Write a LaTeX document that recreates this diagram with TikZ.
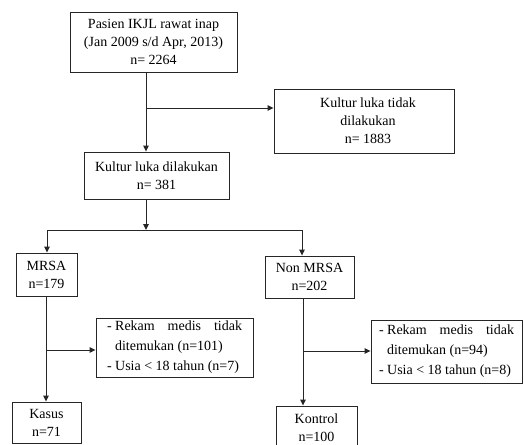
\documentclass[tikz,border=0pt]{standalone}
\usepackage{fontspec}
\setmainfont{Liberation Serif}
\usetikzlibrary{arrows.meta}
\tikzset{
  box/.style={draw=black!85, line width=0.9pt, rectangle, align=center, inner sep=0pt,
    font=\fontsize{14}{18}\selectfont},
  exbox/.style={draw=black!85, line width=0.9pt, rectangle, inner sep=0pt,
    text width=135pt, align=justify, font=\fontsize{14}{20}\selectfont},
  conn/.style={draw=black!85, line width=0.9pt},
  arr/.style={conn, -{Triangle[length=6pt,width=5.5pt]}},
}
\newcommand{\exitem}[2]{-\hspace{3.5pt}Rekam medis tidak\linebreak ditemukan (n=#1)\hangindent=8pt\hangafter=1\par -\hspace{3.5pt}Usia < 18 tahun (n=#2)}
\begin{document}
\begin{tikzpicture}[x=1pt,y=-1pt]
\useasboundingbox (0,0) rectangle (524,444);
% boxes
\node[box, minimum width=167pt, minimum height=60pt] (top) at (153.5,42) {Pasien IKJL rawat inap\\(Jan 2009 s/d Apr, 2013)\\n= 2264};
\node[box, minimum width=180pt, minimum height=64pt] (nocult) at (364,121) {\hspace*{8pt}Kultur luka tidak\\\hspace*{8pt}dilakukan\\\hspace*{8pt}n= 1883};
\node[box, minimum width=145pt, minimum height=47pt] (cult) at (156.5,175.5) {Kultur luka dilakukan\\n= 381};
\node[box, minimum width=61pt, minimum height=43pt] (mrsa) at (46.5,274.5) {MRSA\\n=179};
\node[box, minimum width=89pt, minimum height=42pt] (nonmrsa) at (309.5,277) {Non MRSA\\n=202};
\node[exbox, minimum width=157pt, minimum height=59pt] (exl) at (174.5,347.5) {\exitem{101}{7}};
\node[exbox, minimum width=151pt, minimum height=63pt] (exr) at (446.5,351.5) {\exitem{94}{8}};
\node[box, minimum width=69pt, minimum height=41pt] (kasus) at (46.5,422.5) {Kasus\\n=71};
\node[box, minimum width=81pt, minimum height=44pt] (kontrol) at (316.5,428) {Kontrol\\n=100};
% connector points
\coordinate (c1) at (146,108);
\coordinate (split) at (146,230);
\coordinate (jl) at (47,230);
\coordinate (jr) at (302,230);
\coordinate (bl) at (46,350);
\coordinate (br) at (303,351);
% connectors
\draw[arr] (top.south -| c1) -- (cult.north -| c1);
\draw[arr] (c1) -- (nocult.west |- c1);
\draw[arr] (cult.south -| split) -- (split);
\draw[conn] (jl) -- (jr);
\draw[arr] (jl) -- (jl |- mrsa.north);
\draw[arr] (jr) -- (jr |- nonmrsa.north);
\draw[arr] (mrsa.south -| bl) -- (kasus.north -| bl);
\draw[arr] (bl) -- (exl.west |- bl);
\draw[arr] (nonmrsa.south -| br) -- (kontrol.north -| br);
\draw[arr] (br) -- (exr.west |- br);
\end{tikzpicture}
\end{document}
